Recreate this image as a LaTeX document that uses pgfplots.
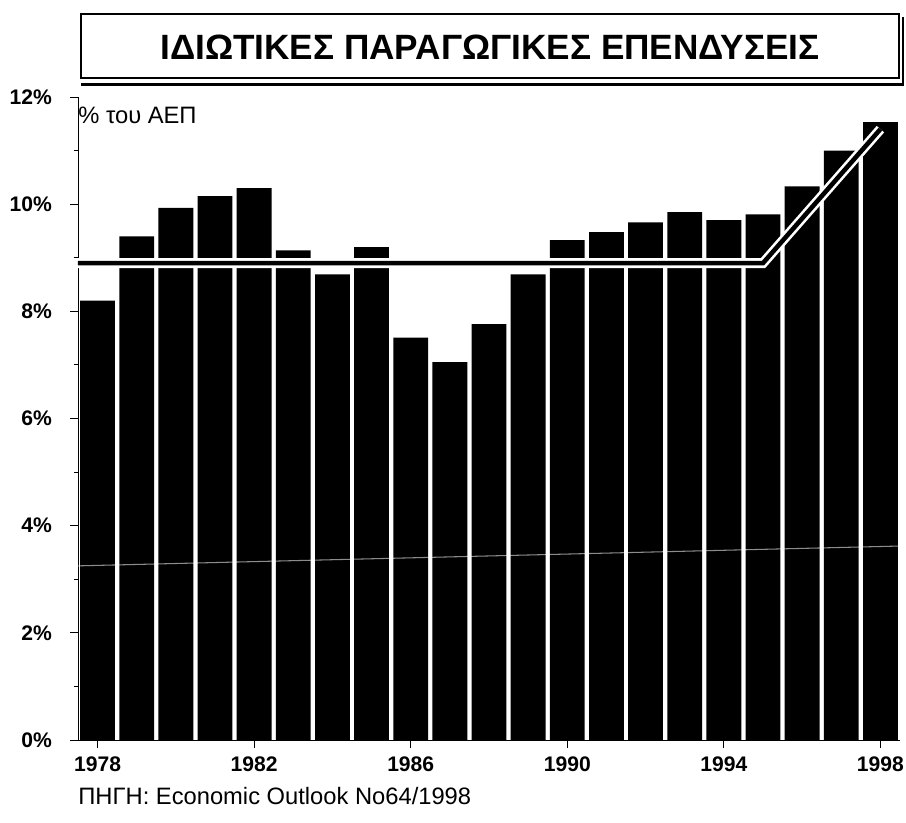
\documentclass[border=0pt]{standalone}
\usepackage{pgfplots}
\pgfplotsset{compat=1.18}
\usepackage{fontspec}
\setmainfont{Liberation Sans}

% 1 px of the reference = 0.2mm; axis origin sits at pixel (78,740)
\begin{document}
\begin{tikzpicture}
\useasboundingbox (-15.6mm,-16.4mm) rectangle (165.6mm,148mm);

\begin{axis}[
  scale only axis,
  width=164.4mm, height=128.6mm,
  xmin=1977.5, xmax=1998.5,
  ymin=0, ymax=12,
  axis x line=bottom, axis y line=left,
  axis line style={-, line width=0.4pt},
  y axis line style={line width=0.3pt},
  xtick={1978,1982,1986,1990,1994,1998},
  ytick={0,2,4,6,8,10,12},
  minor y tick num=1,
  tick align=outside,
  major tick length=1.6mm, minor tick length=0.9mm,
  tick style={black, line width=0.5pt},
  xticklabel style={/pgf/number format/1000 sep={}, yshift=-0.6mm},
  yticklabel={\pgfmathprintnumber{\tick}\%},
  yticklabel style={xshift=-2.4mm},
  ticklabel style={font=\fontsize{12}{14}\selectfont\bfseries},
  /pgf/number format/assume math mode=true,
]
  \addplot[ybar, bar width=0.89, fill=black, draw=none] coordinates {
    (1978,8.2)(1979,9.4)(1980,9.93)(1981,10.15)(1982,10.3)(1983,9.14)
    (1984,8.69)(1985,9.2)(1986,7.51)(1987,7.05)(1988,7.76)(1989,8.69)
    (1990,9.33)(1991,9.48)(1992,9.66)(1993,9.85)(1994,9.70)(1995,9.81)
    (1996,10.33)(1997,11.0)(1998,11.53)
  };
  % faint line across the bars
  \addplot[white, opacity=0.55, line width=0.6pt] coordinates {
    (1977.5,3.25)(1998.5,3.62)
  };
  % average line with white outline
  \addplot[white, line width=5.6pt] coordinates {
    (1977.5,8.9)(1995,8.9)(1998,11.4)
  };
  \addplot[black, line width=2.6pt] coordinates {
    (1977.5,8.9)(1995,8.9)(1998,11.4)
  };
\end{axis}

% title box
\draw[line width=0.6pt] (0.6mm,132.4mm) rectangle (164.2mm,145.2mm);
\draw[line width=1.3pt] (0.6mm,131.1mm) -- (165.0mm,131.1mm) -- (165.0mm,144.6mm);
\node[font=\fontsize{20}{24}\selectfont\bfseries] at (82.4mm,138.6mm)
  {ΙΔΙΩΤΙΚΕΣ ΠΑΡΑΓΩΓΙΚΕΣ ΕΠΕΝΔΥΣΕΙΣ};

\node[anchor=west, inner sep=0pt, font=\fontsize{13.5}{16}\selectfont] at (0mm,125mm)
  {\% του ΑΕΠ};
\node[anchor=west, inner sep=0pt, font=\fontsize{13.5}{16}\selectfont] at (0mm,-11.2mm)
  {ΠΗΓΗ: Economic Outlook No64/1998};
\end{tikzpicture}
\end{document}
